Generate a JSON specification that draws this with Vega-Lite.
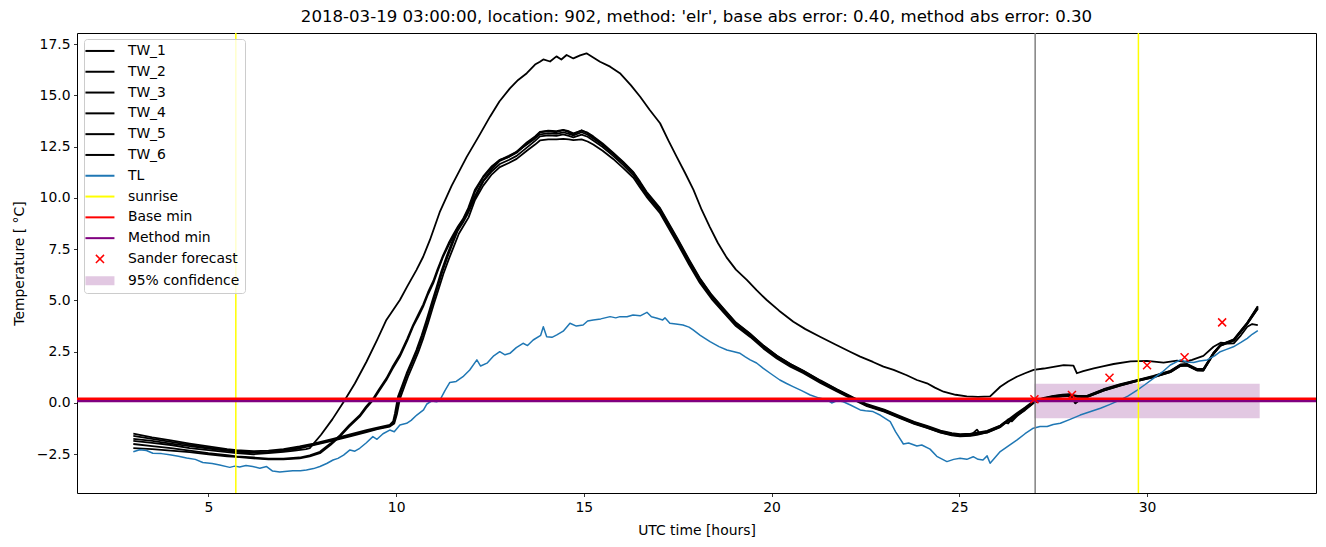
{
"$schema": "https://vega.github.io/schema/vega-lite/v6.json",
"width": 1239, "height": 460,
"autosize": "none",
"padding": {"left": 77, "top": 33, "right": 10, "bottom": 54},
"background": "white",
"title": {"text": "2018-03-19 03:00:00, location: 902, method: 'elr', base abs error: 0.40, method abs error: 0.30", "fontSize": 16.6, "fontWeight": "normal", "font": "DejaVu Sans", "color": "black", "offset": 7, "anchor": "middle"},
"config": {
  "font": "DejaVu Sans",
  "view": {"stroke": "black", "strokeWidth": 1},
  "axis": {"labelFont": "DejaVu Sans", "labelFontSize": 13.9, "labelColor": "black", "titleFont": "DejaVu Sans", "titleFontSize": 13.9, "titleFontWeight": "normal", "titleColor": "black", "tickColor": "black", "tickSize": 3.5, "tickWidth": 0.8, "domain": false, "grid": false, "labelPadding": 3.5}
},
"datasets": {
"tw": [
{"s":"TW_1","h":3.0,"t":-1.85},{"s":"TW_1","h":3.5,"t":-1.95},{"s":"TW_1","h":4.0,"t":-2.05},{"s":"TW_1","h":4.5,"t":-2.2},{"s":"TW_1","h":5.0,"t":-2.3},{"s":"TW_1","h":5.5,"t":-2.4},{"s":"TW_1","h":5.75,"t":-2.45},{"s":"TW_1","h":6.2,"t":-2.5},{"s":"TW_1","h":6.6,"t":-2.45},{"s":"TW_1","h":7.0,"t":-2.38},{"s":"TW_1","h":7.3,"t":-2.32},{"s":"TW_1","h":7.6,"t":-2.25},{"s":"TW_1","h":7.7,"t":-2.2},{"s":"TW_1","h":8.0,"t":-1.55},{"s":"TW_1","h":8.3,"t":-0.8},{"s":"TW_1","h":8.6,"t":0.05},{"s":"TW_1","h":8.9,"t":0.95},{"s":"TW_1","h":9.21,"t":2.01},{"s":"TW_1","h":9.5,"t":3.1},{"s":"TW_1","h":9.74,"t":4.05},{"s":"TW_1","h":10.1,"t":5.02},{"s":"TW_1","h":10.3,"t":5.7},{"s":"TW_1","h":10.54,"t":6.48},{"s":"TW_1","h":10.72,"t":7.13},{"s":"TW_1","h":10.9,"t":7.95},{"s":"TW_1","h":11.16,"t":9.3},{"s":"TW_1","h":11.48,"t":10.6},{"s":"TW_1","h":11.88,"t":12.0},{"s":"TW_1","h":12.2,"t":13.0},{"s":"TW_1","h":12.5,"t":13.96},{"s":"TW_1","h":12.75,"t":14.7},{"s":"TW_1","h":13.03,"t":15.34},{"s":"TW_1","h":13.25,"t":15.75},{"s":"TW_1","h":13.48,"t":16.08},{"s":"TW_1","h":13.7,"t":16.5},{"s":"TW_1","h":13.83,"t":16.64},{"s":"TW_1","h":13.92,"t":16.75},{"s":"TW_1","h":14.1,"t":16.65},{"s":"TW_1","h":14.27,"t":16.9},{"s":"TW_1","h":14.4,"t":16.75},{"s":"TW_1","h":14.54,"t":16.97},{"s":"TW_1","h":14.72,"t":16.8},{"s":"TW_1","h":14.9,"t":16.95},{"s":"TW_1","h":15.07,"t":17.05},{"s":"TW_1","h":15.25,"t":16.85},{"s":"TW_1","h":15.43,"t":16.64},{"s":"TW_1","h":15.7,"t":16.4},{"s":"TW_1","h":15.96,"t":16.08},{"s":"TW_1","h":16.25,"t":15.5},{"s":"TW_1","h":16.5,"t":14.93},{"s":"TW_1","h":16.75,"t":14.3},{"s":"TW_1","h":17.03,"t":13.64},{"s":"TW_1","h":17.25,"t":12.8},{"s":"TW_1","h":17.47,"t":12.01},{"s":"TW_1","h":17.7,"t":11.2},{"s":"TW_1","h":17.92,"t":10.39},{"s":"TW_1","h":18.14,"t":9.41},{"s":"TW_1","h":18.35,"t":8.6},{"s":"TW_1","h":18.57,"t":7.8},{"s":"TW_1","h":18.8,"t":7.1},{"s":"TW_1","h":19.05,"t":6.5},{"s":"TW_1","h":19.34,"t":6.0},{"s":"TW_1","h":19.6,"t":5.5},{"s":"TW_1","h":19.87,"t":5.02},{"s":"TW_1","h":20.2,"t":4.5},{"s":"TW_1","h":20.58,"t":3.96},{"s":"TW_1","h":20.9,"t":3.6},{"s":"TW_1","h":21.29,"t":3.23},{"s":"TW_1","h":21.7,"t":2.85},{"s":"TW_1","h":22.09,"t":2.5},{"s":"TW_1","h":22.36,"t":2.26},{"s":"TW_1","h":22.7,"t":2.0},{"s":"TW_1","h":22.98,"t":1.77},{"s":"TW_1","h":23.25,"t":1.61},{"s":"TW_1","h":23.6,"t":1.35},{"s":"TW_1","h":23.87,"t":1.12},{"s":"TW_1","h":24.14,"t":0.96},{"s":"TW_1","h":24.35,"t":0.75},{"s":"TW_1","h":24.58,"t":0.55},{"s":"TW_1","h":24.9,"t":0.4},{"s":"TW_1","h":25.2,"t":0.32},{"s":"TW_1","h":25.5,"t":0.3},{"s":"TW_1","h":25.82,"t":0.32},{"s":"TW_1","h":26.09,"t":0.79},{"s":"TW_1","h":26.3,"t":1.05},{"s":"TW_1","h":26.53,"t":1.28},{"s":"TW_1","h":26.75,"t":1.45},{"s":"TW_1","h":26.98,"t":1.61},{"s":"TW_1","h":27.25,"t":1.68},{"s":"TW_1","h":27.51,"t":1.76},{"s":"TW_1","h":27.78,"t":1.85},{"s":"TW_1","h":28.04,"t":1.82},{"s":"TW_1","h":28.13,"t":1.45},{"s":"TW_1","h":28.3,"t":1.55},{"s":"TW_1","h":28.58,"t":1.69},{"s":"TW_1","h":28.85,"t":1.8},{"s":"TW_1","h":29.11,"t":1.9},{"s":"TW_1","h":29.56,"t":2.03},{"s":"TW_1","h":30.0,"t":2.05},{"s":"TW_1","h":30.44,"t":1.97},{"s":"TW_1","h":30.8,"t":2.06},{"s":"TW_1","h":31.0,"t":2.0},{"s":"TW_1","h":31.2,"t":2.1},{"s":"TW_1","h":31.5,"t":2.3},{"s":"TW_1","h":31.77,"t":2.74},{"s":"TW_1","h":31.96,"t":2.94},{"s":"TW_1","h":32.15,"t":2.9},{"s":"TW_1","h":32.31,"t":2.91},{"s":"TW_1","h":32.5,"t":3.3},{"s":"TW_1","h":32.67,"t":3.72},{"s":"TW_1","h":32.8,"t":3.85},{"s":"TW_1","h":32.95,"t":3.8},

{"s":"TW_2","h":3.0,"t":-2.2},{"s":"TW_2","h":3.5,"t":-2.25},{"s":"TW_2","h":4.0,"t":-2.32},{"s":"TW_2","h":4.5,"t":-2.4},{"s":"TW_2","h":5.0,"t":-2.5},{"s":"TW_2","h":5.5,"t":-2.6},{"s":"TW_2","h":5.75,"t":-2.63},{"s":"TW_2","h":6.2,"t":-2.7},{"s":"TW_2","h":6.6,"t":-2.75},{"s":"TW_2","h":7.0,"t":-2.75},{"s":"TW_2","h":7.43,"t":-2.7},{"s":"TW_2","h":7.7,"t":-2.6},{"s":"TW_2","h":7.97,"t":-2.45},{"s":"TW_2","h":8.25,"t":-2.05},{"s":"TW_2","h":8.5,"t":-1.64},{"s":"TW_2","h":8.75,"t":-1.15},{"s":"TW_2","h":9.03,"t":-0.67},{"s":"TW_2","h":9.2,"t":-0.25},{"s":"TW_2","h":9.39,"t":0.15},{"s":"TW_2","h":9.55,"t":0.6},{"s":"TW_2","h":9.74,"t":1.12},{"s":"TW_2","h":9.9,"t":1.65},{"s":"TW_2","h":10.1,"t":2.26},{"s":"TW_2","h":10.3,"t":3.05},{"s":"TW_2","h":10.45,"t":3.72},{"s":"TW_2","h":10.6,"t":4.25},{"s":"TW_2","h":10.72,"t":4.7},{"s":"TW_2","h":10.85,"t":5.3},{"s":"TW_2","h":10.99,"t":5.84},{"s":"TW_2","h":11.1,"t":6.4},{"s":"TW_2","h":11.25,"t":7.13},{"s":"TW_2","h":11.4,"t":7.7},{"s":"TW_2","h":11.52,"t":8.11},{"s":"TW_2","h":11.65,"t":8.55},{"s":"TW_2","h":11.79,"t":8.92},{"s":"TW_2","h":11.92,"t":9.41},
{"s":"TW_2","h":12.1,"t":10.3},{"s":"TW_2","h":12.32,"t":11.0},{"s":"TW_2","h":12.55,"t":11.5},{"s":"TW_2","h":12.76,"t":11.85},{"s":"TW_2","h":13.0,"t":12.0},{"s":"TW_2","h":13.21,"t":12.2},{"s":"TW_2","h":13.48,"t":12.65},{"s":"TW_2","h":13.7,"t":12.95},{"s":"TW_2","h":13.83,"t":13.2},{"s":"TW_2","h":14.05,"t":13.25},{"s":"TW_2","h":14.27,"t":13.2},{"s":"TW_2","h":14.45,"t":13.3},{"s":"TW_2","h":14.6,"t":13.2},{"s":"TW_2","h":14.72,"t":13.1},{"s":"TW_2","h":14.94,"t":13.3},{"s":"TW_2","h":15.1,"t":13.15},{"s":"TW_2","h":15.25,"t":12.95},{"s":"TW_2","h":15.5,"t":12.6},{"s":"TW_2","h":15.78,"t":12.15},{"s":"TW_2","h":16.05,"t":11.7},{"s":"TW_2","h":16.32,"t":11.2},{"s":"TW_2","h":16.5,"t":10.7},{"s":"TW_2","h":16.67,"t":10.2},{"s":"TW_2","h":17.03,"t":9.4},{"s":"TW_2","h":17.5,"t":7.9},{"s":"TW_2","h":17.8,"t":6.9},{"s":"TW_2","h":18.09,"t":6.0},{"s":"TW_2","h":18.4,"t":5.2},{"s":"TW_2","h":18.72,"t":4.53},{"s":"TW_2","h":19.05,"t":3.85},{"s":"TW_2","h":19.43,"t":3.32},{"s":"TW_2","h":19.78,"t":2.75},{"s":"TW_2","h":20.14,"t":2.26},{"s":"TW_2","h":20.5,"t":1.85},{"s":"TW_2","h":20.85,"t":1.53},{"s":"TW_2","h":21.3,"t":1.05},{"s":"TW_2","h":21.74,"t":0.63},{"s":"TW_2","h":22.1,"t":0.3},{"s":"TW_2","h":22.54,"t":-0.1},{"s":"TW_2","h":23.0,"t":-0.35},{"s":"TW_2","h":23.42,"t":-0.67},{"s":"TW_2","h":23.8,"t":-0.95},{"s":"TW_2","h":24.14,"t":-1.15},{"s":"TW_2","h":24.5,"t":-1.38},{"s":"TW_2","h":24.8,"t":-1.5},{"s":"TW_2","h":25.02,"t":-1.56},{"s":"TW_2","h":25.3,"t":-1.53},{"s":"TW_2","h":25.47,"t":-1.48},{"s":"TW_2","h":25.74,"t":-1.4},{"s":"TW_2","h":26.09,"t":-1.15},{"s":"TW_2","h":26.3,"t":-0.85},{"s":"TW_2","h":26.53,"t":-0.59},{"s":"TW_2","h":26.75,"t":-0.3},{"s":"TW_2","h":26.98,"t":0.05},{"s":"TW_2","h":27.25,"t":0.2},{"s":"TW_2","h":27.51,"t":0.31},{"s":"TW_2","h":27.75,"t":0.36},{"s":"TW_2","h":27.95,"t":0.39},{"s":"TW_2","h":28.09,"t":-0.02},{"s":"TW_2","h":28.25,"t":0.2},{"s":"TW_2","h":28.4,"t":0.31},{"s":"TW_2","h":28.84,"t":0.63},{"s":"TW_2","h":29.29,"t":0.88},{"s":"TW_2","h":29.73,"t":1.09},{"s":"TW_2","h":30.17,"t":1.28},{"s":"TW_2","h":30.62,"t":1.53},{"s":"TW_2","h":30.89,"t":1.85},{"s":"TW_2","h":31.07,"t":1.85},{"s":"TW_2","h":31.33,"t":1.61},{"s":"TW_2","h":31.5,"t":1.61},{"s":"TW_2","h":31.77,"t":2.42},{"s":"TW_2","h":31.96,"t":2.83},{"s":"TW_2","h":32.31,"t":3.07},{"s":"TW_2","h":32.67,"t":3.89},{"s":"TW_2","h":32.95,"t":4.7},

{"s":"TW_3","h":3.0,"t":-2.0},{"s":"TW_3","h":3.5,"t":-2.1},{"s":"TW_3","h":4.0,"t":-2.2},{"s":"TW_3","h":4.5,"t":-2.32},{"s":"TW_3","h":5.0,"t":-2.45},{"s":"TW_3","h":5.5,"t":-2.55},{"s":"TW_3","h":5.75,"t":-2.6},{"s":"TW_3","h":6.2,"t":-2.66},{"s":"TW_3","h":6.6,"t":-2.72},{"s":"TW_3","h":7.0,"t":-2.72},{"s":"TW_3","h":7.43,"t":-2.66},{"s":"TW_3","h":7.7,"t":-2.55},{"s":"TW_3","h":7.97,"t":-2.38},{"s":"TW_3","h":8.25,"t":-1.98},{"s":"TW_3","h":8.5,"t":-1.58},{"s":"TW_3","h":8.75,"t":-1.08},{"s":"TW_3","h":9.03,"t":-0.6},{"s":"TW_3","h":9.2,"t":-0.18},{"s":"TW_3","h":9.39,"t":0.22},{"s":"TW_3","h":9.55,"t":0.68},{"s":"TW_3","h":9.74,"t":1.2},{"s":"TW_3","h":9.9,"t":1.75},{"s":"TW_3","h":10.1,"t":2.36},{"s":"TW_3","h":10.3,"t":3.15},{"s":"TW_3","h":10.45,"t":3.8},{"s":"TW_3","h":10.6,"t":4.35},{"s":"TW_3","h":10.72,"t":4.8},{"s":"TW_3","h":10.85,"t":5.4},{"s":"TW_3","h":10.99,"t":5.95},{"s":"TW_3","h":11.1,"t":6.5},{"s":"TW_3","h":11.25,"t":7.2},{"s":"TW_3","h":11.4,"t":7.8},{"s":"TW_3","h":11.52,"t":8.2},{"s":"TW_3","h":11.65,"t":8.62},{"s":"TW_3","h":11.79,"t":9.0},{"s":"TW_3","h":11.92,"t":9.5},
{"s":"TW_3","h":12.1,"t":10.4},{"s":"TW_3","h":12.32,"t":11.05},{"s":"TW_3","h":12.55,"t":11.55},{"s":"TW_3","h":12.76,"t":11.85},{"s":"TW_3","h":13.0,"t":12.05},{"s":"TW_3","h":13.21,"t":12.25},{"s":"TW_3","h":13.48,"t":12.6},{"s":"TW_3","h":13.7,"t":12.9},{"s":"TW_3","h":13.83,"t":13.1},{"s":"TW_3","h":14.05,"t":13.15},{"s":"TW_3","h":14.27,"t":13.12},{"s":"TW_3","h":14.45,"t":13.2},{"s":"TW_3","h":14.6,"t":13.12},{"s":"TW_3","h":14.72,"t":13.05},{"s":"TW_3","h":14.94,"t":13.2},{"s":"TW_3","h":15.1,"t":13.08},{"s":"TW_3","h":15.25,"t":12.9},{"s":"TW_3","h":15.5,"t":12.58},{"s":"TW_3","h":15.78,"t":12.15},{"s":"TW_3","h":16.05,"t":11.72},{"s":"TW_3","h":16.32,"t":11.22},{"s":"TW_3","h":16.5,"t":10.72},{"s":"TW_3","h":16.67,"t":10.25},{"s":"TW_3","h":17.03,"t":9.45},{"s":"TW_3","h":17.5,"t":7.95},{"s":"TW_3","h":17.8,"t":6.95},{"s":"TW_3","h":18.09,"t":6.05},{"s":"TW_3","h":18.4,"t":5.25},{"s":"TW_3","h":18.72,"t":4.58},{"s":"TW_3","h":19.05,"t":3.9},{"s":"TW_3","h":19.43,"t":3.36},{"s":"TW_3","h":19.78,"t":2.8},{"s":"TW_3","h":20.14,"t":2.3},{"s":"TW_3","h":20.5,"t":1.9},{"s":"TW_3","h":20.85,"t":1.57},{"s":"TW_3","h":21.3,"t":1.1},{"s":"TW_3","h":21.74,"t":0.67},{"s":"TW_3","h":22.1,"t":0.34},{"s":"TW_3","h":22.54,"t":-0.06},{"s":"TW_3","h":23.0,"t":-0.32},{"s":"TW_3","h":23.42,"t":-0.64},{"s":"TW_3","h":23.8,"t":-0.92},{"s":"TW_3","h":24.14,"t":-1.12},{"s":"TW_3","h":24.5,"t":-1.35},{"s":"TW_3","h":24.8,"t":-1.47},{"s":"TW_3","h":25.02,"t":-1.52},{"s":"TW_3","h":25.3,"t":-1.5},{"s":"TW_3","h":25.47,"t":-1.45},{"s":"TW_3","h":25.74,"t":-1.36},{"s":"TW_3","h":26.09,"t":-1.1},{"s":"TW_3","h":26.3,"t":-0.82},{"s":"TW_3","h":26.53,"t":-0.5},{"s":"TW_3","h":26.75,"t":-0.22},{"s":"TW_3","h":26.98,"t":0.1},{"s":"TW_3","h":27.25,"t":0.25},{"s":"TW_3","h":27.51,"t":0.35},{"s":"TW_3","h":27.75,"t":0.4},{"s":"TW_3","h":27.95,"t":0.43},{"s":"TW_3","h":28.09,"t":0.0},{"s":"TW_3","h":28.25,"t":0.24},{"s":"TW_3","h":28.4,"t":0.35},{"s":"TW_3","h":28.84,"t":0.67},{"s":"TW_3","h":29.29,"t":0.92},{"s":"TW_3","h":29.73,"t":1.12},{"s":"TW_3","h":30.17,"t":1.32},{"s":"TW_3","h":30.62,"t":1.57},{"s":"TW_3","h":30.89,"t":1.88},{"s":"TW_3","h":31.07,"t":1.9},{"s":"TW_3","h":31.33,"t":1.66},{"s":"TW_3","h":31.5,"t":1.66},{"s":"TW_3","h":31.77,"t":2.45},{"s":"TW_3","h":31.96,"t":2.85},{"s":"TW_3","h":32.31,"t":3.1},{"s":"TW_3","h":32.67,"t":3.92},{"s":"TW_3","h":32.95,"t":4.72},

{"s":"TW_4","h":3.0,"t":-1.5},{"s":"TW_4","h":3.5,"t":-1.68},{"s":"TW_4","h":4.0,"t":-1.82},{"s":"TW_4","h":4.5,"t":-1.98},{"s":"TW_4","h":5.0,"t":-2.12},{"s":"TW_4","h":5.5,"t":-2.25},{"s":"TW_4","h":5.75,"t":-2.3},{"s":"TW_4","h":6.2,"t":-2.35},{"s":"TW_4","h":6.6,"t":-2.32},{"s":"TW_4","h":7.0,"t":-2.25},{"s":"TW_4","h":7.43,"t":-2.12},{"s":"TW_4","h":7.8,"t":-1.98},{"s":"TW_4","h":8.32,"t":-1.75},{"s":"TW_4","h":8.8,"t":-1.52},{"s":"TW_4","h":9.21,"t":-1.33},{"s":"TW_4","h":9.5,"t":-1.2},{"s":"TW_4","h":9.83,"t":-1.07},{"s":"TW_4","h":9.92,"t":-0.9},{"s":"TW_4","h":9.97,"t":-0.5},{"s":"TW_4","h":10.05,"t":0.31},{"s":"TW_4","h":10.17,"t":0.9},{"s":"TW_4","h":10.28,"t":1.45},{"s":"TW_4","h":10.41,"t":2.0},{"s":"TW_4","h":10.54,"t":2.58},{"s":"TW_4","h":10.68,"t":3.3},{"s":"TW_4","h":10.81,"t":4.05},{"s":"TW_4","h":10.95,"t":4.9},{"s":"TW_4","h":11.08,"t":5.67},{"s":"TW_4","h":11.2,"t":6.4},{"s":"TW_4","h":11.34,"t":7.13},{"s":"TW_4","h":11.48,"t":7.8},{"s":"TW_4","h":11.61,"t":8.43},{"s":"TW_4","h":11.75,"t":8.85},{"s":"TW_4","h":11.88,"t":9.25},
{"s":"TW_4","h":12.1,"t":10.1},{"s":"TW_4","h":12.32,"t":10.85},{"s":"TW_4","h":12.55,"t":11.4},{"s":"TW_4","h":12.76,"t":11.8},{"s":"TW_4","h":13.0,"t":12.0},{"s":"TW_4","h":13.21,"t":12.25},{"s":"TW_4","h":13.48,"t":12.7},{"s":"TW_4","h":13.7,"t":13.0},{"s":"TW_4","h":13.83,"t":13.22},{"s":"TW_4","h":14.05,"t":13.28},{"s":"TW_4","h":14.27,"t":13.25},{"s":"TW_4","h":14.45,"t":13.32},{"s":"TW_4","h":14.6,"t":13.25},{"s":"TW_4","h":14.72,"t":13.15},{"s":"TW_4","h":14.94,"t":13.28},{"s":"TW_4","h":15.1,"t":13.18},{"s":"TW_4","h":15.25,"t":13.0},{"s":"TW_4","h":15.5,"t":12.65},{"s":"TW_4","h":15.78,"t":12.2},{"s":"TW_4","h":16.05,"t":11.75},{"s":"TW_4","h":16.32,"t":11.25},{"s":"TW_4","h":16.5,"t":10.78},{"s":"TW_4","h":16.67,"t":10.3},{"s":"TW_4","h":17.03,"t":9.5},{"s":"TW_4","h":17.5,"t":8.0},{"s":"TW_4","h":17.8,"t":7.0},{"s":"TW_4","h":18.09,"t":6.08},{"s":"TW_4","h":18.4,"t":5.28},{"s":"TW_4","h":18.72,"t":4.6},{"s":"TW_4","h":19.05,"t":3.92},{"s":"TW_4","h":19.43,"t":3.38},{"s":"TW_4","h":19.78,"t":2.8},{"s":"TW_4","h":20.14,"t":2.3},{"s":"TW_4","h":20.5,"t":1.9},{"s":"TW_4","h":20.85,"t":1.56},{"s":"TW_4","h":21.3,"t":1.08},{"s":"TW_4","h":21.74,"t":0.65},{"s":"TW_4","h":22.1,"t":0.3},{"s":"TW_4","h":22.54,"t":-0.12},{"s":"TW_4","h":23.0,"t":-0.4},{"s":"TW_4","h":23.42,"t":-0.72},{"s":"TW_4","h":23.8,"t":-1.0},{"s":"TW_4","h":24.14,"t":-1.2},{"s":"TW_4","h":24.5,"t":-1.43},{"s":"TW_4","h":24.8,"t":-1.55},{"s":"TW_4","h":25.02,"t":-1.6},{"s":"TW_4","h":25.3,"t":-1.58},{"s":"TW_4","h":25.47,"t":-1.3},{"s":"TW_4","h":25.55,"t":-1.5},{"s":"TW_4","h":25.74,"t":-1.45},{"s":"TW_4","h":26.09,"t":-1.18},{"s":"TW_4","h":26.3,"t":-0.8},{"s":"TW_4","h":26.4,"t":-0.9},{"s":"TW_4","h":26.53,"t":-0.65},{"s":"TW_4","h":26.75,"t":-0.32},{"s":"TW_4","h":26.98,"t":0.02},{"s":"TW_4","h":27.25,"t":0.18},{"s":"TW_4","h":27.51,"t":0.28},{"s":"TW_4","h":27.75,"t":0.34},{"s":"TW_4","h":27.95,"t":0.36},{"s":"TW_4","h":28.15,"t":0.3},{"s":"TW_4","h":28.4,"t":0.3},{"s":"TW_4","h":28.84,"t":0.6},{"s":"TW_4","h":29.29,"t":0.86},{"s":"TW_4","h":29.73,"t":1.07},{"s":"TW_4","h":30.17,"t":1.26},{"s":"TW_4","h":30.62,"t":1.5},{"s":"TW_4","h":30.89,"t":1.8},{"s":"TW_4","h":31.07,"t":1.82},{"s":"TW_4","h":31.33,"t":1.6},{"s":"TW_4","h":31.5,"t":1.58},{"s":"TW_4","h":31.77,"t":2.38},{"s":"TW_4","h":31.96,"t":2.8},{"s":"TW_4","h":32.31,"t":3.05},{"s":"TW_4","h":32.67,"t":3.85},{"s":"TW_4","h":32.95,"t":4.62},

{"s":"TW_5","h":3.0,"t":-1.6},{"s":"TW_5","h":3.5,"t":-1.75},{"s":"TW_5","h":4.0,"t":-1.9},{"s":"TW_5","h":4.5,"t":-2.04},{"s":"TW_5","h":5.0,"t":-2.18},{"s":"TW_5","h":5.5,"t":-2.3},{"s":"TW_5","h":5.75,"t":-2.36},{"s":"TW_5","h":6.2,"t":-2.4},{"s":"TW_5","h":6.6,"t":-2.38},{"s":"TW_5","h":7.0,"t":-2.3},{"s":"TW_5","h":7.43,"t":-2.18},{"s":"TW_5","h":7.8,"t":-2.03},{"s":"TW_5","h":8.32,"t":-1.8},{"s":"TW_5","h":8.8,"t":-1.58},{"s":"TW_5","h":9.21,"t":-1.38},{"s":"TW_5","h":9.5,"t":-1.25},{"s":"TW_5","h":9.83,"t":-1.12},{"s":"TW_5","h":9.94,"t":-0.95},{"s":"TW_5","h":10.0,"t":-0.5},{"s":"TW_5","h":10.08,"t":0.3},{"s":"TW_5","h":10.2,"t":0.9},{"s":"TW_5","h":10.31,"t":1.45},{"s":"TW_5","h":10.44,"t":2.0},{"s":"TW_5","h":10.57,"t":2.58},{"s":"TW_5","h":10.71,"t":3.3},{"s":"TW_5","h":10.84,"t":4.05},{"s":"TW_5","h":10.98,"t":4.9},{"s":"TW_5","h":11.11,"t":5.67},{"s":"TW_5","h":11.23,"t":6.4},{"s":"TW_5","h":11.37,"t":7.13},{"s":"TW_5","h":11.51,"t":7.8},{"s":"TW_5","h":11.64,"t":8.4},{"s":"TW_5","h":11.78,"t":8.8},{"s":"TW_5","h":11.9,"t":9.2},
{"s":"TW_5","h":12.1,"t":10.0},{"s":"TW_5","h":12.32,"t":10.8},{"s":"TW_5","h":12.55,"t":11.3},{"s":"TW_5","h":12.76,"t":11.65},{"s":"TW_5","h":13.0,"t":11.85},{"s":"TW_5","h":13.21,"t":12.05},{"s":"TW_5","h":13.48,"t":12.45},{"s":"TW_5","h":13.7,"t":12.78},{"s":"TW_5","h":13.83,"t":13.0},{"s":"TW_5","h":14.05,"t":13.05},{"s":"TW_5","h":14.27,"t":13.02},{"s":"TW_5","h":14.45,"t":13.1},{"s":"TW_5","h":14.6,"t":13.02},{"s":"TW_5","h":14.72,"t":12.95},{"s":"TW_5","h":14.94,"t":13.08},{"s":"TW_5","h":15.1,"t":12.98},{"s":"TW_5","h":15.25,"t":12.8},{"s":"TW_5","h":15.5,"t":12.48},{"s":"TW_5","h":15.78,"t":12.05},{"s":"TW_5","h":16.05,"t":11.6},{"s":"TW_5","h":16.32,"t":11.1},{"s":"TW_5","h":16.5,"t":10.62},{"s":"TW_5","h":16.67,"t":10.15},{"s":"TW_5","h":17.03,"t":9.35},{"s":"TW_5","h":17.5,"t":7.85},{"s":"TW_5","h":17.8,"t":6.85},{"s":"TW_5","h":18.09,"t":5.95},{"s":"TW_5","h":18.4,"t":5.15},{"s":"TW_5","h":18.72,"t":4.48},{"s":"TW_5","h":19.05,"t":3.8},{"s":"TW_5","h":19.43,"t":3.28},{"s":"TW_5","h":19.78,"t":2.72},{"s":"TW_5","h":20.14,"t":2.22},{"s":"TW_5","h":20.5,"t":1.82},{"s":"TW_5","h":20.85,"t":1.5},{"s":"TW_5","h":21.3,"t":1.02},{"s":"TW_5","h":21.74,"t":0.6},{"s":"TW_5","h":22.1,"t":0.27},{"s":"TW_5","h":22.54,"t":-0.13},{"s":"TW_5","h":23.0,"t":-0.38},{"s":"TW_5","h":23.42,"t":-0.7},{"s":"TW_5","h":23.8,"t":-0.98},{"s":"TW_5","h":24.14,"t":-1.18},{"s":"TW_5","h":24.5,"t":-1.4},{"s":"TW_5","h":24.8,"t":-1.53},{"s":"TW_5","h":25.02,"t":-1.58},{"s":"TW_5","h":25.3,"t":-1.55},{"s":"TW_5","h":25.47,"t":-1.5},{"s":"TW_5","h":25.74,"t":-1.38},{"s":"TW_5","h":26.09,"t":-1.12},{"s":"TW_5","h":26.2,"t":-0.95},{"s":"TW_5","h":26.3,"t":-1.0},{"s":"TW_5","h":26.53,"t":-0.55},{"s":"TW_5","h":26.75,"t":-0.28},{"s":"TW_5","h":26.98,"t":0.06},{"s":"TW_5","h":27.25,"t":0.22},{"s":"TW_5","h":27.51,"t":0.33},{"s":"TW_5","h":27.75,"t":0.38},{"s":"TW_5","h":27.95,"t":0.4},{"s":"TW_5","h":28.15,"t":0.35},{"s":"TW_5","h":28.4,"t":0.34},{"s":"TW_5","h":28.84,"t":0.65},{"s":"TW_5","h":29.29,"t":0.9},{"s":"TW_5","h":29.73,"t":1.1},{"s":"TW_5","h":30.17,"t":1.3},{"s":"TW_5","h":30.62,"t":1.55},{"s":"TW_5","h":30.89,"t":1.86},{"s":"TW_5","h":31.07,"t":1.87},{"s":"TW_5","h":31.33,"t":1.63},{"s":"TW_5","h":31.5,"t":1.63},{"s":"TW_5","h":31.77,"t":2.44},{"s":"TW_5","h":31.96,"t":2.84},{"s":"TW_5","h":32.31,"t":3.08},{"s":"TW_5","h":32.67,"t":3.9},{"s":"TW_5","h":32.95,"t":4.66},

{"s":"TW_6","h":3.0,"t":-1.75},{"s":"TW_6","h":3.5,"t":-1.85},{"s":"TW_6","h":4.0,"t":-1.98},{"s":"TW_6","h":4.5,"t":-2.1},{"s":"TW_6","h":5.0,"t":-2.22},{"s":"TW_6","h":5.5,"t":-2.33},{"s":"TW_6","h":5.75,"t":-2.38},{"s":"TW_6","h":6.2,"t":-2.42},{"s":"TW_6","h":6.6,"t":-2.4},{"s":"TW_6","h":7.0,"t":-2.33},{"s":"TW_6","h":7.43,"t":-2.22},{"s":"TW_6","h":7.8,"t":-2.06},{"s":"TW_6","h":8.32,"t":-1.84},{"s":"TW_6","h":8.8,"t":-1.62},{"s":"TW_6","h":9.21,"t":-1.42},{"s":"TW_6","h":9.5,"t":-1.28},{"s":"TW_6","h":9.83,"t":-1.15},{"s":"TW_6","h":9.95,"t":-1.0},{"s":"TW_6","h":10.02,"t":-0.55},{"s":"TW_6","h":10.1,"t":0.2},{"s":"TW_6","h":10.22,"t":0.8},{"s":"TW_6","h":10.33,"t":1.35},{"s":"TW_6","h":10.46,"t":1.9},{"s":"TW_6","h":10.59,"t":2.48},{"s":"TW_6","h":10.73,"t":3.2},{"s":"TW_6","h":10.86,"t":3.95},{"s":"TW_6","h":11.0,"t":4.8},{"s":"TW_6","h":11.13,"t":5.55},{"s":"TW_6","h":11.26,"t":6.3},{"s":"TW_6","h":11.4,"t":7.0},{"s":"TW_6","h":11.54,"t":7.65},{"s":"TW_6","h":11.67,"t":8.25},{"s":"TW_6","h":11.8,"t":8.65},{"s":"TW_6","h":11.93,"t":9.05},
{"s":"TW_6","h":12.1,"t":9.9},{"s":"TW_6","h":12.32,"t":10.6},{"s":"TW_6","h":12.55,"t":11.15},{"s":"TW_6","h":12.76,"t":11.5},{"s":"TW_6","h":13.0,"t":11.7},{"s":"TW_6","h":13.21,"t":11.9},{"s":"TW_6","h":13.48,"t":12.3},{"s":"TW_6","h":13.7,"t":12.6},{"s":"TW_6","h":13.83,"t":12.8},{"s":"TW_6","h":14.05,"t":12.85},{"s":"TW_6","h":14.27,"t":12.85},{"s":"TW_6","h":14.45,"t":12.88},{"s":"TW_6","h":14.6,"t":12.85},{"s":"TW_6","h":14.72,"t":12.82},{"s":"TW_6","h":14.94,"t":12.85},{"s":"TW_6","h":15.1,"t":12.75},{"s":"TW_6","h":15.25,"t":12.6},{"s":"TW_6","h":15.5,"t":12.3},{"s":"TW_6","h":15.78,"t":11.9},{"s":"TW_6","h":16.05,"t":11.45},{"s":"TW_6","h":16.32,"t":10.98},{"s":"TW_6","h":16.5,"t":10.5},{"s":"TW_6","h":16.67,"t":10.05},{"s":"TW_6","h":17.03,"t":9.25},{"s":"TW_6","h":17.5,"t":7.75},{"s":"TW_6","h":17.8,"t":6.75},{"s":"TW_6","h":18.09,"t":5.85},{"s":"TW_6","h":18.4,"t":5.08},{"s":"TW_6","h":18.72,"t":4.42},{"s":"TW_6","h":19.05,"t":3.75},{"s":"TW_6","h":19.43,"t":3.22},{"s":"TW_6","h":19.78,"t":2.66},{"s":"TW_6","h":20.14,"t":2.17},{"s":"TW_6","h":20.5,"t":1.77},{"s":"TW_6","h":20.85,"t":1.45},{"s":"TW_6","h":21.3,"t":0.98},{"s":"TW_6","h":21.74,"t":0.56},{"s":"TW_6","h":22.1,"t":0.23},{"s":"TW_6","h":22.54,"t":-0.16},{"s":"TW_6","h":23.0,"t":-0.42},{"s":"TW_6","h":23.42,"t":-0.74},{"s":"TW_6","h":23.8,"t":-1.02},{"s":"TW_6","h":24.14,"t":-1.22},{"s":"TW_6","h":24.5,"t":-1.45},{"s":"TW_6","h":24.8,"t":-1.58},{"s":"TW_6","h":25.02,"t":-1.63},{"s":"TW_6","h":25.3,"t":-1.6},{"s":"TW_6","h":25.47,"t":-1.55},{"s":"TW_6","h":25.74,"t":-1.43},{"s":"TW_6","h":26.09,"t":-1.17},{"s":"TW_6","h":26.3,"t":-0.88},{"s":"TW_6","h":26.53,"t":-0.62},{"s":"TW_6","h":26.75,"t":-0.35},{"s":"TW_6","h":26.98,"t":0.0},{"s":"TW_6","h":27.25,"t":0.16},{"s":"TW_6","h":27.51,"t":0.27},{"s":"TW_6","h":27.75,"t":0.32},{"s":"TW_6","h":27.95,"t":0.35},{"s":"TW_6","h":28.15,"t":0.32},{"s":"TW_6","h":28.4,"t":0.28},{"s":"TW_6","h":28.84,"t":0.6},{"s":"TW_6","h":29.29,"t":0.85},{"s":"TW_6","h":29.73,"t":1.06},{"s":"TW_6","h":30.17,"t":1.25},{"s":"TW_6","h":30.62,"t":1.5},{"s":"TW_6","h":30.89,"t":1.82},{"s":"TW_6","h":31.07,"t":1.83},{"s":"TW_6","h":31.33,"t":1.58},{"s":"TW_6","h":31.5,"t":1.58},{"s":"TW_6","h":31.77,"t":2.4},{"s":"TW_6","h":31.96,"t":2.8},{"s":"TW_6","h":32.31,"t":3.04},{"s":"TW_6","h":32.67,"t":3.86},{"s":"TW_6","h":32.95,"t":4.6}
],
"tl": [
{"s":"TL","h":3.0,"t":-2.38},{"s":"TL","h":3.17,"t":-2.28},{"s":"TL","h":3.35,"t":-2.32},{"s":"TL","h":3.52,"t":-2.45},{"s":"TL","h":3.75,"t":-2.47},{"s":"TL","h":3.97,"t":-2.53},{"s":"TL","h":4.2,"t":-2.6},{"s":"TL","h":4.42,"t":-2.68},{"s":"TL","h":4.65,"t":-2.75},{"s":"TL","h":4.85,"t":-2.9},{"s":"TL","h":5.1,"t":-2.95},{"s":"TL","h":5.3,"t":-3.02},{"s":"TL","h":5.57,"t":-3.14},{"s":"TL","h":5.7,"t":-3.08},{"s":"TL","h":5.83,"t":-3.12},{"s":"TL","h":6.0,"t":-3.05},{"s":"TL","h":6.18,"t":-3.1},{"s":"TL","h":6.37,"t":-3.18},{"s":"TL","h":6.55,"t":-3.1},{"s":"TL","h":6.71,"t":-3.32},{"s":"TL","h":6.9,"t":-3.37},{"s":"TL","h":7.1,"t":-3.33},{"s":"TL","h":7.25,"t":-3.3},{"s":"TL","h":7.45,"t":-3.3},{"s":"TL","h":7.61,"t":-3.27},{"s":"TL","h":7.8,"t":-3.2},{"s":"TL","h":7.97,"t":-3.1},{"s":"TL","h":8.15,"t":-2.95},{"s":"TL","h":8.32,"t":-2.78},{"s":"TL","h":8.45,"t":-2.7},{"s":"TL","h":8.6,"t":-2.54},{"s":"TL","h":8.77,"t":-2.29},{"s":"TL","h":8.9,"t":-2.35},{"s":"TL","h":9.03,"t":-2.21},{"s":"TL","h":9.2,"t":-1.95},{"s":"TL","h":9.38,"t":-1.64},{"s":"TL","h":9.49,"t":-1.77},{"s":"TL","h":9.65,"t":-1.5},{"s":"TL","h":9.83,"t":-1.32},{"s":"TL","h":9.95,"t":-1.4},{"s":"TL","h":10.1,"t":-1.07},{"s":"TL","h":10.28,"t":-0.99},{"s":"TL","h":10.4,"t":-0.85},{"s":"TL","h":10.55,"t":-0.59},{"s":"TL","h":10.73,"t":-0.34},{"s":"TL","h":10.82,"t":-0.05},{"s":"TL","h":10.95,"t":0.1},{"s":"TL","h":11.08,"t":0.06},{"s":"TL","h":11.17,"t":0.15},{"s":"TL","h":11.3,"t":0.6},{"s":"TL","h":11.43,"t":1.0},{"s":"TL","h":11.6,"t":1.05},{"s":"TL","h":11.78,"t":1.28},{"s":"TL","h":11.96,"t":1.61},{"s":"TL","h":12.15,"t":2.1},{"s":"TL","h":12.25,"t":1.8},{"s":"TL","h":12.42,"t":1.94},{"s":"TL","h":12.6,"t":2.3},{"s":"TL","h":12.76,"t":2.5},{"s":"TL","h":12.9,"t":2.35},{"s":"TL","h":13.03,"t":2.42},{"s":"TL","h":13.2,"t":2.7},{"s":"TL","h":13.38,"t":2.91},{"s":"TL","h":13.5,"t":2.8},{"s":"TL","h":13.65,"t":3.07},{"s":"TL","h":13.85,"t":3.3},{"s":"TL","h":13.92,"t":3.72},{"s":"TL","h":14.01,"t":3.23},{"s":"TL","h":14.15,"t":3.2},{"s":"TL","h":14.28,"t":3.32},{"s":"TL","h":14.45,"t":3.5},{"s":"TL","h":14.63,"t":3.89},{"s":"TL","h":14.8,"t":3.75},{"s":"TL","h":14.98,"t":3.8},{"s":"TL","h":15.1,"t":4.0},{"s":"TL","h":15.25,"t":4.05},{"s":"TL","h":15.45,"t":4.1},{"s":"TL","h":15.7,"t":4.21},{"s":"TL","h":15.85,"t":4.15},{"s":"TL","h":15.96,"t":4.21},{"s":"TL","h":16.15,"t":4.2},{"s":"TL","h":16.31,"t":4.29},{"s":"TL","h":16.5,"t":4.25},{"s":"TL","h":16.68,"t":4.42},{"s":"TL","h":16.8,"t":4.2},{"s":"TL","h":16.95,"t":4.13},{"s":"TL","h":17.1,"t":4.05},{"s":"TL","h":17.16,"t":4.15},{"s":"TL","h":17.29,"t":3.89},{"s":"TL","h":17.45,"t":3.85},{"s":"TL","h":17.64,"t":3.8},{"s":"TL","h":17.8,"t":3.7},{"s":"TL","h":17.91,"t":3.56},{"s":"TL","h":18.1,"t":3.3},{"s":"TL","h":18.36,"t":2.99},{"s":"TL","h":18.6,"t":2.75},{"s":"TL","h":18.81,"t":2.58},{"s":"TL","h":19.0,"t":2.5},{"s":"TL","h":19.16,"t":2.42},{"s":"TL","h":19.3,"t":2.25},{"s":"TL","h":19.43,"t":2.1},{"s":"TL","h":19.6,"t":1.95},{"s":"TL","h":19.78,"t":1.69},{"s":"TL","h":20.0,"t":1.4},{"s":"TL","h":20.22,"t":1.12},{"s":"TL","h":20.4,"t":0.95},{"s":"TL","h":20.57,"t":0.8},{"s":"TL","h":20.8,"t":0.6},{"s":"TL","h":21.03,"t":0.39},{"s":"TL","h":21.25,"t":0.25},{"s":"TL","h":21.48,"t":0.15},{"s":"TL","h":21.6,"t":0.0},{"s":"TL","h":21.75,"t":0.12},{"s":"TL","h":21.91,"t":0.06},{"s":"TL","h":22.1,"t":-0.1},{"s":"TL","h":22.36,"t":-0.34},{"s":"TL","h":22.5,"t":-0.38},{"s":"TL","h":22.7,"t":-0.42},{"s":"TL","h":22.9,"t":-0.6},{"s":"TL","h":23.16,"t":-0.91},{"s":"TL","h":23.3,"t":-1.4},{"s":"TL","h":23.51,"t":-2.0},{"s":"TL","h":23.65,"t":-1.95},{"s":"TL","h":23.87,"t":-2.1},{"s":"TL","h":24.0,"t":-2.05},{"s":"TL","h":24.22,"t":-2.25},{"s":"TL","h":24.4,"t":-2.6},{"s":"TL","h":24.67,"t":-2.86},{"s":"TL","h":24.85,"t":-2.75},{"s":"TL","h":25.02,"t":-2.7},{"s":"TL","h":25.2,"t":-2.75},{"s":"TL","h":25.37,"t":-2.62},{"s":"TL","h":25.5,"t":-2.75},{"s":"TL","h":25.63,"t":-2.78},{"s":"TL","h":25.74,"t":-2.58},{"s":"TL","h":25.82,"t":-2.94},{"s":"TL","h":26.09,"t":-2.37},{"s":"TL","h":26.3,"t":-2.1},{"s":"TL","h":26.54,"t":-1.8},{"s":"TL","h":26.75,"t":-1.5},{"s":"TL","h":26.97,"t":-1.23},{"s":"TL","h":27.15,"t":-1.15},{"s":"TL","h":27.34,"t":-1.15},{"s":"TL","h":27.5,"t":-1.05},{"s":"TL","h":27.69,"t":-0.99},{"s":"TL","h":27.95,"t":-0.8},{"s":"TL","h":28.22,"t":-0.59},{"s":"TL","h":28.5,"t":-0.42},{"s":"TL","h":28.76,"t":-0.26},{"s":"TL","h":29.0,"t":-0.08},{"s":"TL","h":29.29,"t":0.15},{"s":"TL","h":29.5,"t":0.35},{"s":"TL","h":29.74,"t":0.63},{"s":"TL","h":29.95,"t":0.9},{"s":"TL","h":30.17,"t":1.2},{"s":"TL","h":30.4,"t":1.5},{"s":"TL","h":30.62,"t":1.85},{"s":"TL","h":30.89,"t":2.1},{"s":"TL","h":31.05,"t":2.0},{"s":"TL","h":31.24,"t":1.97},{"s":"TL","h":31.4,"t":2.05},{"s":"TL","h":31.6,"t":2.1},{"s":"TL","h":31.8,"t":2.3},{"s":"TL","h":31.95,"t":2.5},{"s":"TL","h":32.1,"t":2.6},{"s":"TL","h":32.3,"t":2.74},{"s":"TL","h":32.5,"t":2.95},{"s":"TL","h":32.67,"t":3.15},{"s":"TL","h":32.8,"t":3.35},{"s":"TL","h":32.95,"t":3.53}
]
},
"layer": [
{
  "data": {"values": [{"s": "95% confidence", "h0": 27, "h1": 33, "lo": -0.74, "hi": 0.94}]},
  "mark": {"type": "rect"},
  "encoding": {
    "x": {"field": "h0", "type": "quantitative", "scale": {"domain": [1.5, 34.5], "nice": false, "zero": false}, "axis": {"title": "UTC time [hours]", "values": [5, 10, 15, 20, 25, 30], "format": "d", "titlePadding": 10}},
    "x2": {"field": "h1"},
    "y": {"field": "lo", "type": "quantitative", "scale": {"domain": [-4.39, 18.04], "nice": false, "zero": false}, "axis": {"title": "Temperature [ °C]", "values": [-2.5, 0, 2.5, 5, 7.5, 10, 12.5, 15, 17.5], "format": ".1f", "titlePadding": 10}},
    "y2": {"field": "hi"},
    "color": {"field": "s", "type": "nominal",
      "scale": {"domain": ["TW_1","TW_2","TW_3","TW_4","TW_5","TW_6","TL","sunrise","Base min","Method min","Sander forecast","95% confidence"], "range": ["#000000","#000000","#000000","#000000","#000000","#000000","#1f77b4","#ffff00","#ff0000","#800080","#ff0000","#e2c8e2"]},
      "legend": {
        "title": null, "orient": "none", "legendX": 7, "legendY": 6, "padding": 5,
        "fillColor": "rgba(255,255,255,0.8)", "strokeColor": "#cccccc", "cornerRadius": 3,
        "labelFont": "DejaVu Sans", "labelFontSize": 13.9, "labelColor": "black",
        "symbolSize": 841, "rowPadding": 5.8, "labelOffset": 21, "symbolOffset": 4, "symbolStrokeWidth": 2,
        "encode": {"symbols": {"update": {
          "shape": {"signal": "datum.value === 'Sander forecast' ? 'M-0.28,-0.28L0.28,0.28M-0.28,0.28L0.28,-0.28' : (datum.value === '95% confidence' ? 'M-1,-0.31L1,-0.31L1,0.31L-1,0.31Z' : 'stroke')"},
          "fill": {"signal": "datum.value === '95% confidence' ? '#e2c8e2' : 'transparent'"},
          "stroke": {"scale": "color", "field": "value"},
          "strokeOpacity": {"signal": "datum.value === '95% confidence' ? 0 : 1"},
          "strokeWidth": {"signal": "datum.value === 'Sander forecast' ? 1.5 : 2"},
          "opacity": {"value": 1}
        }}}
      }
    }
  }
},
{
  "data": {"name": "tw"},
  "mark": {"type": "line", "strokeWidth": 1.8, "strokeJoin": "round"},
  "encoding": {
    "x": {"field": "h", "type": "quantitative", "scale": {"domain": [1.5, 34.5], "nice": false, "zero": false}},
    "y": {"field": "t", "type": "quantitative", "scale": {"domain": [-4.39, 18.04], "nice": false, "zero": false}},
    "color": {"field": "s", "type": "nominal"}
  }
},
{
  "data": {"name": "tl"},
  "mark": {"type": "line", "strokeWidth": 1.5, "strokeJoin": "round"},
  "encoding": {
    "x": {"field": "h", "type": "quantitative", "scale": {"domain": [1.5, 34.5], "nice": false, "zero": false}},
    "y": {"field": "t", "type": "quantitative", "scale": {"domain": [-4.39, 18.04], "nice": false, "zero": false}},
    "color": {"field": "s", "type": "nominal"}
  }
},
{
  "data": {"values": [{"s": "sunrise", "h": 5.73}, {"s": "sunrise", "h": 29.77}]},
  "mark": {"type": "rule", "strokeWidth": 1.5},
  "encoding": {
    "x": {"field": "h", "type": "quantitative", "scale": {"domain": [1.5, 34.5], "nice": false, "zero": false}},
    "color": {"field": "s", "type": "nominal"}
  }
},
{
  "data": {"values": [{"h": 27.02}]},
  "mark": {"type": "rule", "strokeWidth": 1.5, "color": "#808080"},
  "encoding": {
    "x": {"field": "h", "type": "quantitative", "scale": {"domain": [1.5, 34.5], "nice": false, "zero": false}}
  }
},
{
  "data": {"values": [{"s": "Method min", "t": 0.1}, {"s": "Base min", "t": 0.2}]},
  "mark": {"type": "rule", "strokeWidth": 2.5},
  "encoding": {
    "y": {"field": "t", "type": "quantitative", "scale": {"domain": [-4.39, 18.04], "nice": false, "zero": false}},
    "color": {"field": "s", "type": "nominal"}
  }
},
{
  "data": {"values": [{"s": "Sander forecast", "h": 27, "t": 0.18}, {"s": "Sander forecast", "h": 28, "t": 0.39}, {"s": "Sander forecast", "h": 29, "t": 1.23}, {"s": "Sander forecast", "h": 30, "t": 1.84}, {"s": "Sander forecast", "h": 31, "t": 2.23}, {"s": "Sander forecast", "h": 32, "t": 3.93}]},
  "mark": {"type": "point", "shape": "M-1,-1L1,1M-1,1L1,-1", "size": 64, "filled": false, "strokeWidth": 1.5, "opacity": 1},
  "encoding": {
    "x": {"field": "h", "type": "quantitative", "scale": {"domain": [1.5, 34.5], "nice": false, "zero": false}},
    "y": {"field": "t", "type": "quantitative", "scale": {"domain": [-4.39, 18.04], "nice": false, "zero": false}},
    "color": {"field": "s", "type": "nominal"}
  }
}
]
}
